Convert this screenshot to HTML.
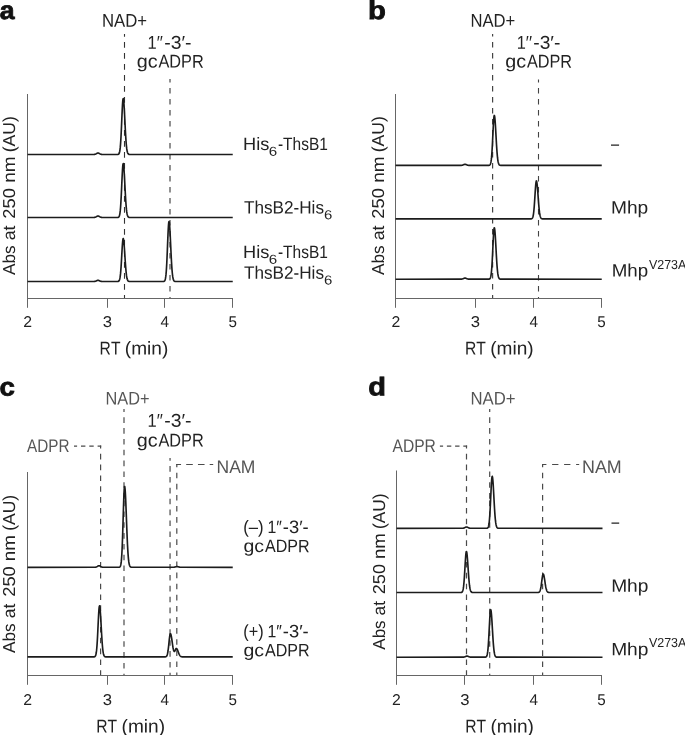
<!DOCTYPE html>
<html lang="en">
<head>
<meta charset="utf-8">
<title>Figure</title>
<style>
html,body{margin:0;padding:0;background:#fff;}
body{width:685px;height:735px;overflow:hidden;}
svg{display:block;font-family:'Liberation Sans', sans-serif;font-kerning:none;}
text{font-kerning:none;white-space:pre;text-rendering:geometricPrecision;}
</style>
</head>
<body>
<svg width="685" height="735" viewBox="0 0 685 735">
<rect width="685" height="735" fill="#fff"/>
<text transform="translate(-0.28,19.0) rotate(0.05) scale(1.0444,1)" font-size="25.5" fill="#111" font-weight="bold" stroke="#111" stroke-width="0.8">a</text>
<text transform="translate(102.03,26.7) rotate(0.05) scale(0.9044,1)" font-size="18.5" fill="#222">NAD+</text>
<text transform="translate(147.54,48.7) rotate(0.05) scale(0.8923,1)" font-size="18.5" fill="#222">1′′</text>
<text transform="translate(164.24,48.7) rotate(0.05) scale(1.0477,1)" font-size="18.5" fill="#222">-3′-</text>
<text transform="translate(136.67,67.6) rotate(0.05) scale(1.0681,1)" font-size="18.5" fill="#222">gc</text>
<text transform="translate(158.49,67.6) rotate(0.05) scale(0.8806,1)" font-size="18.5" fill="#222">ADPR</text>
<line x1="124.5" y1="33.9" x2="124.5" y2="298.5" stroke="#333" stroke-width="1.1" stroke-dasharray="5.6 5.40" stroke-dashoffset="2.80"/>
<line x1="170.0" y1="79" x2="170.0" y2="298.5" stroke="#383838" stroke-width="1.1" stroke-dasharray="5.6 5.40" stroke-dashoffset="2.00"/>
<polyline points="27.5,94 27.5,298.5 233.0,298.5" fill="none" stroke="#666" stroke-width="1"/>
<line x1="27.5" y1="298.0" x2="27.5" y2="307.8" stroke="#666" stroke-width="1"/>
<line x1="107.5" y1="298.0" x2="107.5" y2="307.8" stroke="#666" stroke-width="1"/>
<line x1="164.5" y1="298.0" x2="164.5" y2="307.8" stroke="#666" stroke-width="1"/>
<line x1="232.5" y1="298.0" x2="232.5" y2="307.8" stroke="#666" stroke-width="1"/>
<path d="M27.50,154.50 L93.25,154.49 L93.50,154.48 L93.75,154.47 L94.00,154.46 L94.25,154.43 L94.50,154.40 L94.75,154.36 L95.00,154.30 L95.25,154.22 L95.50,154.13 L95.75,154.01 L96.00,153.88 L96.25,153.74 L96.50,153.59 L96.75,153.44 L97.00,153.30 L97.25,153.18 L97.50,153.08 L97.75,153.02 L98.00,153.00 L98.25,153.02 L98.50,153.08 L98.75,153.18 L99.00,153.30 L99.25,153.44 L99.50,153.59 L99.75,153.74 L100.00,153.88 L100.25,154.01 L100.50,154.13 L100.75,154.22 L101.00,154.30 L101.25,154.36 L101.50,154.40 L101.75,154.43 L102.00,154.46 L102.25,154.47 L102.50,154.48 L102.75,154.49 L117.00,154.49 L117.25,154.49 L117.50,154.48 L117.75,154.45 L118.00,154.41 L118.25,154.33 L118.50,154.21 L118.75,154.00 L119.00,153.66 L119.25,153.13 L119.50,152.34 L119.75,151.20 L120.00,149.60 L120.25,147.43 L120.50,144.61 L120.75,141.06 L121.00,136.79 L121.25,131.83 L121.50,126.34 L121.75,120.53 L122.00,114.74 L122.25,109.32 L122.50,104.66 L122.75,101.13 L123.00,99.03 L123.25,98.53 L123.50,99.40 L123.75,101.46 L124.00,104.59 L124.25,108.57 L124.50,113.18 L124.75,118.14 L125.00,123.23 L125.25,128.20 L125.50,132.87 L125.75,137.11 L126.00,140.83 L126.25,143.99 L126.50,146.60 L126.75,148.69 L127.00,150.33 L127.25,151.57 L127.50,152.49 L127.75,153.15 L128.00,153.61 L128.25,153.93 L128.50,154.14 L128.75,154.28 L129.00,154.37 L129.25,154.42 L129.50,154.46 L129.75,154.48 L130.00,154.49 L130.25,154.49 L232.75,154.50" fill="none" stroke="#1c1c1c" stroke-width="1.65" stroke-linejoin="round"/>
<path d="M27.50,217.50 L93.25,217.49 L93.50,217.48 L93.75,217.47 L94.00,217.46 L94.25,217.43 L94.50,217.40 L94.75,217.36 L95.00,217.30 L95.25,217.22 L95.50,217.13 L95.75,217.01 L96.00,216.88 L96.25,216.74 L96.50,216.59 L96.75,216.44 L97.00,216.30 L97.25,216.18 L97.50,216.08 L97.75,216.02 L98.00,216.00 L98.25,216.02 L98.50,216.08 L98.75,216.18 L99.00,216.30 L99.25,216.44 L99.50,216.59 L99.75,216.74 L100.00,216.88 L100.25,217.01 L100.50,217.13 L100.75,217.22 L101.00,217.30 L101.25,217.36 L101.50,217.40 L101.75,217.43 L102.00,217.46 L102.25,217.47 L102.50,217.48 L102.75,217.49 L117.00,217.49 L117.25,217.49 L117.50,217.48 L117.75,217.45 L118.00,217.41 L118.25,217.34 L118.50,217.22 L118.75,217.01 L119.00,216.69 L119.25,216.18 L119.50,215.42 L119.75,214.32 L120.00,212.77 L120.25,210.68 L120.50,207.96 L120.75,204.54 L121.00,200.42 L121.25,195.64 L121.50,190.34 L121.75,184.75 L122.00,179.16 L122.25,173.93 L122.50,169.44 L122.75,166.04 L123.00,164.01 L123.25,163.52 L123.50,164.37 L123.75,166.36 L124.00,169.37 L124.25,173.21 L124.50,177.65 L124.75,182.44 L125.00,187.34 L125.25,192.14 L125.50,196.64 L125.75,200.73 L126.00,204.31 L126.25,207.36 L126.50,209.88 L126.75,211.90 L127.00,213.48 L127.25,214.67 L127.50,215.56 L127.75,216.19 L128.00,216.64 L128.25,216.95 L128.50,217.15 L128.75,217.29 L129.00,217.37 L129.25,217.43 L129.50,217.46 L129.75,217.48 L130.00,217.49 L130.25,217.49 L232.75,217.50" fill="none" stroke="#1c1c1c" stroke-width="1.65" stroke-linejoin="round"/>
<path d="M27.50,281.50 L93.25,281.49 L93.50,281.49 L93.75,281.48 L94.00,281.47 L94.25,281.45 L94.50,281.42 L94.75,281.39 L95.00,281.34 L95.25,281.28 L95.50,281.20 L95.75,281.11 L96.00,281.01 L96.25,280.89 L96.50,280.77 L96.75,280.65 L97.00,280.54 L97.25,280.44 L97.50,280.36 L97.75,280.32 L98.00,280.30 L98.25,280.32 L98.50,280.36 L98.75,280.44 L99.00,280.54 L99.25,280.65 L99.50,280.77 L99.75,280.89 L100.00,281.01 L100.25,281.11 L100.50,281.20 L100.75,281.28 L101.00,281.34 L101.25,281.39 L101.50,281.42 L101.75,281.45 L102.00,281.47 L102.25,281.48 L102.50,281.49 L102.75,281.49 L117.25,281.49 L117.50,281.48 L117.75,281.46 L118.00,281.43 L118.25,281.37 L118.50,281.28 L118.75,281.11 L119.00,280.85 L119.25,280.45 L119.50,279.84 L119.75,278.96 L120.00,277.73 L120.25,276.07 L120.50,273.90 L120.75,271.18 L121.00,267.90 L121.25,264.09 L121.50,259.87 L121.75,255.42 L122.00,250.97 L122.25,246.81 L122.50,243.23 L122.75,240.52 L123.00,238.91 L123.25,238.52 L123.50,239.19 L123.75,240.78 L124.00,243.17 L124.25,246.23 L124.50,249.77 L124.75,253.58 L125.00,257.49 L125.25,261.30 L125.50,264.89 L125.75,268.14 L126.00,271.00 L126.25,273.43 L126.50,275.43 L126.75,277.04 L127.00,278.30 L127.25,279.25 L127.50,279.95 L127.75,280.46 L128.00,280.82 L128.25,281.06 L128.50,281.22 L128.75,281.33 L129.00,281.40 L129.25,281.44 L129.50,281.47 L129.75,281.48 L130.00,281.49 L130.25,281.49 L162.75,281.49 L163.00,281.49 L163.25,281.48 L163.50,281.45 L163.75,281.41 L164.00,281.34 L164.25,281.22 L164.50,281.01 L164.75,280.68 L165.00,280.16 L165.25,279.38 L165.50,278.24 L165.75,276.63 L166.00,274.44 L166.25,271.57 L166.50,267.93 L166.75,263.50 L167.00,258.32 L167.25,252.54 L167.50,246.36 L167.75,240.12 L168.00,234.20 L168.25,229.01 L168.50,224.96 L168.75,222.39 L169.00,221.50 L169.25,222.17 L169.50,224.14 L169.75,227.27 L170.00,231.37 L170.25,236.20 L170.50,241.47 L170.75,246.91 L171.00,252.27 L171.25,257.36 L171.50,262.00 L171.75,266.10 L172.00,269.61 L172.25,272.52 L172.50,274.87 L172.75,276.71 L173.00,278.12 L173.25,279.17 L173.50,279.93 L173.75,280.46 L174.00,280.83 L174.25,281.08 L174.50,281.24 L174.75,281.34 L175.00,281.41 L175.25,281.45 L175.50,281.47 L175.75,281.48 L176.00,281.49 L232.75,281.50" fill="none" stroke="#1c1c1c" stroke-width="1.65" stroke-linejoin="round"/>
<text transform="translate(23.21,327) rotate(0.05) scale(1.0131,1)" font-size="15.6" fill="#222">2</text>
<text transform="translate(102.77,327) rotate(0.05) scale(1.0681,1)" font-size="15.6" fill="#222">3</text>
<text transform="translate(160.45,327) rotate(0.05) scale(0.9795,1)" font-size="15.6" fill="#222">4</text>
<text transform="translate(228.49,327) rotate(0.05) scale(0.9735,1)" font-size="15.6" fill="#222">5</text>
<text transform="translate(99.62,354.6) rotate(0.05) scale(0.8451,1)" font-size="18.5" fill="#222">RT</text>
<text transform="translate(124.82,354.6) rotate(0.05) scale(1.0317,1)" font-size="18.5" fill="#222">(min)</text>
<text transform="translate(15.1,275.03) rotate(-90) scale(0.9982,1)" font-size="17.3" fill="#222">Abs</text>
<text transform="translate(15.1,240.25) rotate(-90) scale(1.0246,1)" font-size="17.3" fill="#222">at</text>
<text transform="translate(15.1,218.63) rotate(-90) scale(1.0652,1)" font-size="17.3" fill="#222">250</text>
<text transform="translate(15.1,182.86) rotate(-90) scale(1.0992,1)" font-size="17.3" fill="#222">nm</text>
<text transform="translate(15.1,152.29) rotate(-90) scale(1.0177,1)" font-size="17.3" fill="#222">(AU)</text>
<text transform="translate(243.11,149.9) rotate(0.05) scale(1.0152,1)" font-size="17.9" fill="#222">His</text>
<text transform="translate(268.83,155.70000000000002) rotate(0.05) scale(1.1670,1)" font-size="13" fill="#222">6</text>
<text transform="translate(277.91,149.9) rotate(0.05) scale(0.8657,1)" font-size="17.9" fill="#222">-ThsB1</text>
<text transform="translate(243.91,213.4) rotate(0.05) scale(0.9588,1)" font-size="17.9" fill="#222">ThsB2-His</text>
<text transform="translate(323.94,219.20000000000002) rotate(0.05) scale(1.1503,1)" font-size="13" fill="#222">6</text>
<text transform="translate(243.11,257.9) rotate(0.05) scale(1.0152,1)" font-size="17.9" fill="#222">His</text>
<text transform="translate(268.83,263.7) rotate(0.05) scale(1.1670,1)" font-size="13" fill="#222">6</text>
<text transform="translate(277.91,257.9) rotate(0.05) scale(0.8657,1)" font-size="17.9" fill="#222">-ThsB1</text>
<text transform="translate(243.91,278.7) rotate(0.05) scale(0.9588,1)" font-size="17.9" fill="#222">ThsB2-His</text>
<text transform="translate(323.94,284.5) rotate(0.05) scale(1.1503,1)" font-size="13" fill="#222">6</text>
<text transform="translate(368.07,19.05) rotate(0.05) scale(1.1479,1)" font-size="25.5" fill="#111" font-weight="bold" stroke="#111" stroke-width="0.8">b</text>
<text transform="translate(470.54,26.7) rotate(0.05) scale(0.8981,1)" font-size="18.5" fill="#222">NAD+</text>
<text transform="translate(516.75,48.7) rotate(0.05) scale(0.8838,1)" font-size="18.5" fill="#222">1′′</text>
<text transform="translate(533.29,48.7) rotate(0.05) scale(1.0377,1)" font-size="18.5" fill="#222">-3′-</text>
<text transform="translate(505.17,67.6) rotate(0.05) scale(1.0649,1)" font-size="18.5" fill="#222">gc</text>
<text transform="translate(526.93,67.6) rotate(0.05) scale(0.8779,1)" font-size="18.5" fill="#222">ADPR</text>
<line x1="492.6" y1="34.0" x2="492.6" y2="298.5" stroke="#444" stroke-width="1.2" stroke-dasharray="5.6 5.40" stroke-dashoffset="3.10"/>
<line x1="538.5" y1="79.4" x2="538.5" y2="298.5" stroke="#444" stroke-width="1.1" stroke-dasharray="5.6 5.40" stroke-dashoffset="2.40"/>
<polyline points="395.5,94 395.5,298.5 602.0,298.5" fill="none" stroke="#666" stroke-width="1"/>
<line x1="395.5" y1="298.0" x2="395.5" y2="307.8" stroke="#666" stroke-width="1"/>
<line x1="475.5" y1="298.0" x2="475.5" y2="307.8" stroke="#666" stroke-width="1"/>
<line x1="533.5" y1="298.0" x2="533.5" y2="307.8" stroke="#666" stroke-width="1"/>
<line x1="601.5" y1="298.0" x2="601.5" y2="307.8" stroke="#666" stroke-width="1"/>
<path d="M395.50,165.40 L460.25,165.39 L460.50,165.39 L460.75,165.38 L461.00,165.37 L461.25,165.35 L461.50,165.33 L461.75,165.29 L462.00,165.25 L462.25,165.20 L462.50,165.13 L462.75,165.04 L463.00,164.95 L463.25,164.84 L463.50,164.73 L463.75,164.62 L464.00,164.52 L464.25,164.43 L464.50,164.36 L464.75,164.32 L465.00,164.30 L465.25,164.32 L465.50,164.36 L465.75,164.43 L466.00,164.52 L466.25,164.62 L466.50,164.73 L466.75,164.84 L467.00,164.95 L467.25,165.04 L467.50,165.13 L467.75,165.20 L468.00,165.25 L468.25,165.29 L468.50,165.33 L468.75,165.35 L469.00,165.37 L469.25,165.38 L469.50,165.39 L469.75,165.39 L488.25,165.39 L488.50,165.38 L488.75,165.37 L489.00,165.34 L489.25,165.28 L489.50,165.19 L489.75,165.04 L490.00,164.78 L490.25,164.39 L490.50,163.79 L490.75,162.90 L491.00,161.65 L491.25,159.93 L491.50,157.65 L491.75,154.75 L492.00,151.19 L492.25,147.00 L492.50,142.26 L492.75,137.16 L493.00,131.95 L493.25,126.93 L493.50,122.46 L493.75,118.87 L494.00,116.46 L494.25,115.43 L494.50,115.76 L494.75,117.19 L495.00,119.62 L495.25,122.89 L495.50,126.81 L495.75,131.14 L496.00,135.66 L496.25,140.16 L496.50,144.46 L496.75,148.41 L497.00,151.92 L497.25,154.94 L497.50,157.47 L497.75,159.52 L498.00,161.14 L498.25,162.38 L498.50,163.30 L498.75,163.98 L499.00,164.46 L499.25,164.79 L499.50,165.01 L499.75,165.16 L500.00,165.25 L500.25,165.31 L500.50,165.35 L500.75,165.37 L501.00,165.38 L501.25,165.39 L601.75,165.40" fill="none" stroke="#1c1c1c" stroke-width="1.65" stroke-linejoin="round"/>
<path d="M395.50,218.90 L530.50,218.89 L530.75,218.88 L531.00,218.86 L531.25,218.83 L531.50,218.77 L531.75,218.68 L532.00,218.52 L532.25,218.27 L532.50,217.88 L532.75,217.30 L533.00,216.47 L533.25,215.31 L533.50,213.76 L533.75,211.75 L534.00,209.24 L534.25,206.24 L534.50,202.80 L534.75,199.01 L535.00,195.06 L535.25,191.15 L535.50,187.56 L535.75,184.53 L536.00,182.32 L536.25,181.10 L536.50,180.97 L536.75,181.73 L537.00,183.28 L537.25,185.53 L537.50,188.33 L537.75,191.52 L538.00,194.92 L538.25,198.36 L538.50,201.71 L538.75,204.82 L539.00,207.63 L539.25,210.08 L539.50,212.15 L539.75,213.85 L540.00,215.20 L540.25,216.26 L540.50,217.05 L540.75,217.64 L541.00,218.05 L541.25,218.35 L541.50,218.55 L541.75,218.68 L542.00,218.76 L542.25,218.82 L542.50,218.85 L542.75,218.87 L543.00,218.88 L543.25,218.89 L601.75,218.90" fill="none" stroke="#1c1c1c" stroke-width="1.65" stroke-linejoin="round"/>
<path d="M395.50,279.20 L460.25,279.19 L460.50,279.19 L460.75,279.18 L461.00,279.17 L461.25,279.15 L461.50,279.13 L461.75,279.09 L462.00,279.05 L462.25,279.00 L462.50,278.93 L462.75,278.84 L463.00,278.75 L463.25,278.64 L463.50,278.53 L463.75,278.42 L464.00,278.32 L464.25,278.23 L464.50,278.16 L464.75,278.12 L465.00,278.10 L465.25,278.12 L465.50,278.16 L465.75,278.23 L466.00,278.32 L466.25,278.42 L466.50,278.53 L466.75,278.64 L467.00,278.75 L467.25,278.84 L467.50,278.93 L467.75,279.00 L468.00,279.05 L468.25,279.09 L468.50,279.13 L468.75,279.15 L469.00,279.17 L469.25,279.18 L469.50,279.19 L469.75,279.19 L488.25,279.19 L488.50,279.18 L488.75,279.17 L489.00,279.14 L489.25,279.08 L489.50,278.99 L489.75,278.83 L490.00,278.57 L490.25,278.16 L490.50,277.54 L490.75,276.63 L491.00,275.34 L491.25,273.56 L491.50,271.22 L491.75,268.23 L492.00,264.56 L492.25,260.24 L492.50,255.37 L492.75,250.11 L493.00,244.74 L493.25,239.58 L493.50,234.97 L493.75,231.27 L494.00,228.79 L494.25,227.73 L494.50,228.07 L494.75,229.54 L495.00,232.04 L495.25,235.41 L495.50,239.45 L495.75,243.91 L496.00,248.57 L496.25,253.21 L496.50,257.63 L496.75,261.70 L497.00,265.32 L497.25,268.43 L497.50,271.03 L497.75,273.14 L498.00,274.81 L498.25,276.09 L498.50,277.04 L498.75,277.74 L499.00,278.23 L499.25,278.57 L499.50,278.80 L499.75,278.95 L500.00,279.05 L500.25,279.11 L500.50,279.15 L500.75,279.17 L501.00,279.18 L501.25,279.19 L601.75,279.20" fill="none" stroke="#1c1c1c" stroke-width="1.65" stroke-linejoin="round"/>
<text transform="translate(391.51,327) rotate(0.05) scale(1.0131,1)" font-size="15.6" fill="#222">2</text>
<text transform="translate(470.77,327) rotate(0.05) scale(1.0681,1)" font-size="15.6" fill="#222">3</text>
<text transform="translate(529.45,327) rotate(0.05) scale(0.9795,1)" font-size="15.6" fill="#222">4</text>
<text transform="translate(597.19,327) rotate(0.05) scale(0.9735,1)" font-size="15.6" fill="#222">5</text>
<text transform="translate(465.02,354.6) rotate(0.05) scale(0.8451,1)" font-size="18.5" fill="#222">RT</text>
<text transform="translate(490.22,354.6) rotate(0.05) scale(1.0317,1)" font-size="18.5" fill="#222">(min)</text>
<text transform="translate(384.0,275.03) rotate(-90) scale(0.9982,1)" font-size="17.3" fill="#222">Abs</text>
<text transform="translate(384.0,240.25) rotate(-90) scale(1.0246,1)" font-size="17.3" fill="#222">at</text>
<text transform="translate(384.0,218.63) rotate(-90) scale(1.0652,1)" font-size="17.3" fill="#222">250</text>
<text transform="translate(384.0,182.86) rotate(-90) scale(1.0992,1)" font-size="17.3" fill="#222">nm</text>
<text transform="translate(384.0,152.29) rotate(-90) scale(1.0177,1)" font-size="17.3" fill="#222">(AU)</text>
<text transform="translate(610.90,149.85) rotate(0.05) scale(0.8144,1)" font-size="17.9" fill="#222">–</text>
<text transform="translate(610.93,213.6) rotate(0.05) scale(1.0705,1)" font-size="17.9" fill="#222">Mhp</text>
<text transform="translate(611.76,276.5) rotate(0.05) scale(1.0460,1)" font-size="17.9" fill="#222">Mhp</text>
<text transform="translate(648.95,269) rotate(0.05) scale(0.9577,1)" font-size="13" fill="#222">V273A</text>
<text transform="translate(-0.58,395.5) rotate(0.05) scale(1.0853,1)" font-size="25.5" fill="#111" font-weight="bold" stroke="#111" stroke-width="0.8">c</text>
<text transform="translate(105.46,404.6) rotate(0.05) scale(0.8930,1)" font-size="18.3" fill="#555">NAD+</text>
<text transform="translate(147.54,426.8) rotate(0.05) scale(0.8923,1)" font-size="18.5" fill="#222">1′′</text>
<text transform="translate(164.24,426.8) rotate(0.05) scale(1.0477,1)" font-size="18.5" fill="#222">-3′-</text>
<text transform="translate(136.67,446.4) rotate(0.05) scale(1.0681,1)" font-size="18.5" fill="#222">gc</text>
<text transform="translate(158.49,446.4) rotate(0.05) scale(0.8806,1)" font-size="18.5" fill="#222">ADPR</text>
<text transform="translate(27.07,452.0) rotate(0.05) scale(0.8347,1)" font-size="18.3" fill="#555">ADPR</text>
<text transform="translate(216.57,473.0) rotate(0.05) scale(0.9558,1)" font-size="18.3" fill="#555">NAM</text>
<line x1="124.0" y1="409.1" x2="124.0" y2="500" stroke="#4a4a4a" stroke-width="1.2" stroke-dasharray="5.6 5.22" stroke-dashoffset="2.62"/>
<line x1="124.0" y1="500" x2="124.0" y2="675.5" stroke="#4a4a4a" stroke-width="1.2" stroke-dasharray="5.6 5.22" stroke-dashoffset="10.22"/>
<line x1="170.05" y1="457.9" x2="170.05" y2="675.5" stroke="#4a4a4a" stroke-width="1.2" stroke-dasharray="5.6 5.28" stroke-dashoffset="2.68"/>
<line x1="100.6" y1="445.6" x2="100.6" y2="675.5" stroke="#4a4a4a" stroke-width="1.2" stroke-dasharray="5.6 5.22" stroke-dashoffset="2.62"/>
<line x1="74" y1="446.2" x2="101.2" y2="446.2" stroke="#4a4a4a" stroke-width="1.2" stroke-dasharray="4.4 3.90" stroke-dashoffset="1.30"/>
<line x1="176.8" y1="463.9" x2="176.8" y2="675.5" stroke="#4a4a4a" stroke-width="1.2" stroke-dasharray="5.6 5.50" stroke-dashoffset="2.30"/>
<line x1="176.2" y1="464.5" x2="213.2" y2="464.5" stroke="#4a4a4a" stroke-width="1.2" stroke-dasharray="6.6 5.15" stroke-dashoffset="1.75"/>
<polyline points="27.5,472 27.5,675.5 233.0,675.5" fill="none" stroke="#666" stroke-width="1"/>
<line x1="27.5" y1="675.0" x2="27.5" y2="684.8" stroke="#666" stroke-width="1"/>
<line x1="107.5" y1="675.0" x2="107.5" y2="684.8" stroke="#666" stroke-width="1"/>
<line x1="164.5" y1="675.0" x2="164.5" y2="684.8" stroke="#666" stroke-width="1"/>
<line x1="232.5" y1="675.0" x2="232.5" y2="684.8" stroke="#666" stroke-width="1"/>
<path d="M27.50,567.30 L94.00,567.29 L94.25,567.29 L94.50,567.28 L94.75,567.27 L95.00,567.25 L95.25,567.23 L95.50,567.19 L95.75,567.15 L96.00,567.08 L96.25,567.00 L96.50,566.90 L96.75,566.78 L97.00,566.64 L97.25,566.49 L97.50,566.33 L97.75,566.17 L98.00,566.02 L98.25,565.89 L98.50,565.79 L98.75,565.72 L99.00,565.70 L99.25,565.72 L99.50,565.79 L99.75,565.89 L100.00,566.02 L100.25,566.17 L100.50,566.33 L100.75,566.49 L101.00,566.64 L101.25,566.78 L101.50,566.90 L101.75,567.00 L102.00,567.08 L102.25,567.15 L102.50,567.19 L102.75,567.23 L103.00,567.25 L103.25,567.27 L103.50,567.28 L103.75,567.29 L104.00,567.29 L118.25,567.29 L118.50,567.29 L118.75,567.28 L119.00,567.25 L119.25,567.21 L119.50,567.13 L119.75,567.00 L120.00,566.77 L120.25,566.40 L120.50,565.81 L120.75,564.91 L121.00,563.58 L121.25,561.68 L121.50,559.06 L121.75,555.56 L122.00,551.07 L122.25,545.52 L122.50,538.92 L122.75,531.41 L123.00,523.24 L123.25,514.79 L123.50,506.55 L123.75,499.09 L124.00,492.95 L124.25,488.63 L124.50,486.49 L124.75,486.58 L125.00,488.25 L125.25,491.34 L125.50,495.69 L125.75,501.07 L126.00,507.19 L126.25,513.78 L126.50,520.54 L126.75,527.22 L127.00,533.59 L127.25,539.48 L127.50,544.78 L127.75,549.41 L128.00,553.36 L128.25,556.64 L128.50,559.30 L128.75,561.41 L129.00,563.05 L129.25,564.29 L129.50,565.20 L129.75,565.87 L130.00,566.34 L130.25,566.67 L130.50,566.89 L130.75,567.04 L131.00,567.14 L131.25,567.20 L131.50,567.24 L131.75,567.27 L132.00,567.28 L132.25,567.29 L132.50,567.29 L172.50,567.29 L172.75,567.29 L173.00,567.28 L173.25,567.27 L173.50,567.25 L173.75,567.23 L174.00,567.21 L174.25,567.17 L174.50,567.13 L174.75,567.07 L175.00,567.01 L175.25,566.95 L175.50,566.88 L175.75,566.81 L176.00,566.74 L176.25,566.68 L176.50,566.64 L176.75,566.61 L177.00,566.60 L177.25,566.61 L177.50,566.64 L177.75,566.68 L178.00,566.74 L178.25,566.81 L178.50,566.88 L178.75,566.95 L179.00,567.01 L179.25,567.07 L179.50,567.13 L179.75,567.17 L180.00,567.21 L180.25,567.23 L180.50,567.25 L180.75,567.27 L181.00,567.28 L181.25,567.29 L181.50,567.29 L232.75,567.30" fill="none" stroke="#1c1c1c" stroke-width="1.65" stroke-linejoin="round"/>
<path d="M27.50,656.90 L93.50,656.89 L93.75,656.88 L94.00,656.86 L94.25,656.83 L94.50,656.77 L94.75,656.66 L95.00,656.49 L95.25,656.20 L95.50,655.76 L95.75,655.10 L96.00,654.13 L96.25,652.76 L96.50,650.90 L96.75,648.46 L97.00,645.36 L97.25,641.60 L97.50,637.20 L97.75,632.28 L98.00,627.03 L98.25,621.73 L98.50,616.69 L98.75,612.29 L99.00,608.84 L99.25,606.65 L99.50,605.90 L99.75,606.47 L100.00,608.14 L100.25,610.81 L100.50,614.29 L100.75,618.39 L101.00,622.87 L101.25,627.50 L101.50,632.06 L101.75,636.38 L102.00,640.32 L102.25,643.81 L102.50,646.79 L102.75,649.27 L103.00,651.26 L103.25,652.83 L103.50,654.03 L103.75,654.92 L104.00,655.56 L104.25,656.02 L104.50,656.33 L104.75,656.54 L105.00,656.68 L105.25,656.77 L105.50,656.82 L105.75,656.85 L106.00,656.87 L106.25,656.89 L106.50,656.89 L164.50,656.89 L164.75,656.89 L165.00,656.88 L165.25,656.86 L165.50,656.82 L165.75,656.76 L166.00,656.67 L166.25,656.51 L166.50,656.28 L166.75,655.92 L167.00,655.42 L167.25,654.71 L167.50,653.76 L167.75,652.53 L168.00,651.00 L168.25,649.17 L168.50,647.07 L168.75,644.76 L169.00,642.34 L169.25,639.96 L169.50,637.76 L169.75,635.92 L170.00,634.57 L170.25,633.82 L170.50,633.73 L170.75,634.09 L171.00,634.84 L171.25,635.93 L171.50,637.31 L171.75,638.91 L172.00,640.66 L172.25,642.46 L172.50,644.26 L172.75,645.96 L173.00,647.50 L173.25,648.84 L173.50,649.93 L173.75,650.73 L174.00,651.25 L174.25,651.47 L174.50,651.42 L174.75,651.14 L175.00,650.68 L175.25,650.13 L175.50,649.55 L175.75,649.03 L176.00,648.65 L176.25,648.46 L176.50,648.49 L176.75,648.67 L177.00,648.99 L177.25,649.43 L177.50,649.97 L177.75,650.58 L178.00,651.25 L178.25,651.94 L178.50,652.63 L178.75,653.29 L179.00,653.91 L179.25,654.46 L179.50,654.95 L179.75,655.37 L180.00,655.73 L180.25,656.01 L180.50,656.24 L180.75,656.42 L181.00,656.56 L181.25,656.66 L181.50,656.74 L181.75,656.79 L182.00,656.83 L182.25,656.85 L182.50,656.87 L182.75,656.88 L183.00,656.89 L183.25,656.89 L232.75,656.90" fill="none" stroke="#1c1c1c" stroke-width="1.65" stroke-linejoin="round"/>
<text transform="translate(23.21,705) rotate(0.05) scale(1.0131,1)" font-size="15.6" fill="#222">2</text>
<text transform="translate(102.77,705) rotate(0.05) scale(1.0681,1)" font-size="15.6" fill="#222">3</text>
<text transform="translate(160.45,705) rotate(0.05) scale(0.9795,1)" font-size="15.6" fill="#222">4</text>
<text transform="translate(228.49,705) rotate(0.05) scale(0.9735,1)" font-size="15.6" fill="#222">5</text>
<text transform="translate(96.32,732.4) rotate(0.05) scale(0.8451,1)" font-size="18.5" fill="#222">RT</text>
<text transform="translate(121.52,732.4) rotate(0.05) scale(1.0317,1)" font-size="18.5" fill="#222">(min)</text>
<text transform="translate(15.1,652.93) rotate(-90) scale(0.9932,1)" font-size="17.3" fill="#222">Abs</text>
<text transform="translate(15.1,618.33) rotate(-90) scale(1.0195,1)" font-size="17.3" fill="#222">at</text>
<text transform="translate(15.1,596.81) rotate(-90) scale(1.0599,1)" font-size="17.3" fill="#222">250</text>
<text transform="translate(15.1,561.22) rotate(-90) scale(1.0937,1)" font-size="17.3" fill="#222">nm</text>
<text transform="translate(15.1,530.81) rotate(-90) scale(1.0126,1)" font-size="17.3" fill="#222">(AU)</text>
<text transform="translate(243.27,532.9) rotate(0.05) scale(0.9310,1)" font-size="17.9" fill="#222">(–)</text>
<text transform="translate(267.39,532.9) rotate(0.05) scale(0.8838,1)" font-size="17.9" fill="#222">1″</text>
<text transform="translate(282.78,532.9) rotate(0.05) scale(1.0278,1)" font-size="17.9" fill="#222">-3′-</text>
<text transform="translate(243.48,552.1) rotate(0.05) scale(1.0888,1)" font-size="17.9" fill="#222">gc</text>
<text transform="translate(265.01,552.1) rotate(0.05) scale(0.8976,1)" font-size="17.9" fill="#222">ADPR</text>
<text transform="translate(243.29,637.2) rotate(0.05) scale(0.9080,1)" font-size="17.9" fill="#222">(+)</text>
<text transform="translate(267.39,637.2) rotate(0.05) scale(0.8838,1)" font-size="17.9" fill="#222">1″</text>
<text transform="translate(282.78,637.2) rotate(0.05) scale(1.0278,1)" font-size="17.9" fill="#222">-3′-</text>
<text transform="translate(243.48,656.2) rotate(0.05) scale(1.0888,1)" font-size="17.9" fill="#222">gc</text>
<text transform="translate(265.01,656.2) rotate(0.05) scale(0.8976,1)" font-size="17.9" fill="#222">ADPR</text>
<text transform="translate(368.21,395.3) rotate(0.05) scale(1.1362,1)" font-size="25.5" fill="#111" font-weight="bold" stroke="#111" stroke-width="0.8">d</text>
<text transform="translate(470.53,404.6) rotate(0.05) scale(0.9143,1)" font-size="18.3" fill="#555">NAD+</text>
<text transform="translate(392.47,452.0) rotate(0.05) scale(0.8547,1)" font-size="18.3" fill="#555">ADPR</text>
<text transform="translate(582.03,473.0) rotate(0.05) scale(0.9771,1)" font-size="18.3" fill="#555">NAM</text>
<line x1="489.7" y1="409.1" x2="489.7" y2="500" stroke="#4a4a4a" stroke-width="1.2" stroke-dasharray="5.6 5.22" stroke-dashoffset="2.62"/>
<line x1="489.7" y1="500" x2="489.7" y2="675.5" stroke="#4a4a4a" stroke-width="1.2" stroke-dasharray="5.6 5.22" stroke-dashoffset="10.22"/>
<line x1="466.5" y1="445.6" x2="466.5" y2="675.5" stroke="#4a4a4a" stroke-width="1.2" stroke-dasharray="5.6 5.22" stroke-dashoffset="2.62"/>
<line x1="439.9" y1="446.2" x2="467.1" y2="446.2" stroke="#4a4a4a" stroke-width="1.2" stroke-dasharray="4.4 3.80" stroke-dashoffset="1.20"/>
<line x1="542.6" y1="463.9" x2="542.6" y2="675.5" stroke="#4a4a4a" stroke-width="1.2" stroke-dasharray="5.6 5.50" stroke-dashoffset="2.30"/>
<line x1="542.0" y1="464.5" x2="579.2" y2="464.5" stroke="#4a4a4a" stroke-width="1.2" stroke-dasharray="6.3 5.70" stroke-dashoffset="1.90"/>
<polyline points="396.5,470.5 396.5,675.5 602.0,675.5" fill="none" stroke="#666" stroke-width="1"/>
<line x1="396.5" y1="675.0" x2="396.5" y2="684.8" stroke="#666" stroke-width="1"/>
<line x1="464.5" y1="675.0" x2="464.5" y2="684.8" stroke="#666" stroke-width="1"/>
<line x1="533.5" y1="675.0" x2="533.5" y2="684.8" stroke="#666" stroke-width="1"/>
<line x1="601.5" y1="675.0" x2="601.5" y2="684.8" stroke="#666" stroke-width="1"/>
<path d="M396.50,528.30 L461.75,528.29 L462.00,528.29 L462.25,528.28 L462.50,528.26 L462.75,528.24 L463.00,528.21 L463.25,528.18 L463.50,528.12 L463.75,528.06 L464.00,527.98 L464.25,527.88 L464.50,527.77 L464.75,527.64 L465.00,527.51 L465.25,527.38 L465.50,527.26 L465.75,527.15 L466.00,527.07 L466.25,527.02 L466.50,527.00 L466.75,527.02 L467.00,527.07 L467.25,527.15 L467.50,527.26 L467.75,527.38 L468.00,527.51 L468.25,527.64 L468.50,527.77 L468.75,527.88 L469.00,527.98 L469.25,528.06 L469.50,528.12 L469.75,528.18 L470.00,528.21 L470.25,528.24 L470.50,528.26 L470.75,528.28 L471.00,528.29 L471.25,528.29 L486.00,528.29 L486.25,528.29 L486.50,528.28 L486.75,528.26 L487.00,528.22 L487.25,528.15 L487.50,528.03 L487.75,527.83 L488.00,527.52 L488.25,527.03 L488.50,526.30 L488.75,525.23 L489.00,523.75 L489.25,521.74 L489.50,519.11 L489.75,515.82 L490.00,511.85 L490.25,507.25 L490.50,502.15 L490.75,496.76 L491.00,491.38 L491.25,486.34 L491.50,482.02 L491.75,478.74 L492.00,476.79 L492.25,476.32 L492.50,477.13 L492.75,479.05 L493.00,481.95 L493.25,485.65 L493.50,489.93 L493.75,494.54 L494.00,499.26 L494.25,503.88 L494.50,508.21 L494.75,512.15 L495.00,515.60 L495.25,518.54 L495.50,520.96 L495.75,522.91 L496.00,524.42 L496.25,525.58 L496.50,526.43 L496.75,527.04 L497.00,527.47 L497.25,527.77 L497.50,527.97 L497.75,528.10 L498.00,528.18 L498.25,528.23 L498.50,528.26 L498.75,528.28 L499.00,528.29 L499.25,528.29 L602.50,528.30" fill="none" stroke="#1c1c1c" stroke-width="1.65" stroke-linejoin="round"/>
<path d="M396.50,592.50 L460.25,592.49 L460.50,592.49 L460.75,592.48 L461.00,592.46 L461.25,592.43 L461.50,592.36 L461.75,592.26 L462.00,592.09 L462.25,591.82 L462.50,591.40 L462.75,590.77 L463.00,589.88 L463.25,588.63 L463.50,586.95 L463.75,584.78 L464.00,582.08 L464.25,578.84 L464.50,575.12 L464.75,571.04 L465.00,566.78 L465.25,562.56 L465.50,558.68 L465.75,555.42 L466.00,553.03 L466.25,551.72 L466.50,551.57 L466.75,552.39 L467.00,554.07 L467.25,556.50 L467.50,559.52 L467.75,562.96 L468.00,566.63 L468.25,570.34 L468.50,573.95 L468.75,577.31 L469.00,580.34 L469.25,582.98 L469.50,585.22 L469.75,587.05 L470.00,588.51 L470.25,589.65 L470.50,590.50 L470.75,591.14 L471.00,591.59 L471.25,591.90 L471.50,592.12 L471.75,592.26 L472.00,592.35 L472.25,592.41 L472.50,592.45 L472.75,592.47 L473.00,592.48 L473.25,592.49 L537.50,592.49 L537.75,592.48 L538.00,592.47 L538.25,592.45 L538.50,592.40 L538.75,592.33 L539.00,592.22 L539.25,592.05 L539.50,591.79 L539.75,591.41 L540.00,590.88 L540.25,590.16 L540.50,589.23 L540.75,588.06 L541.00,586.65 L541.25,585.01 L541.50,583.20 L541.75,581.28 L542.00,579.36 L542.25,577.57 L542.50,576.03 L542.75,574.87 L543.00,574.18 L543.25,574.01 L543.50,574.30 L543.75,574.98 L544.00,576.01 L544.25,577.33 L544.50,578.85 L544.75,580.49 L545.00,582.17 L545.25,583.81 L545.50,585.35 L545.75,586.75 L546.00,587.98 L546.25,589.03 L546.50,589.89 L546.75,590.58 L547.00,591.12 L547.25,591.53 L547.50,591.83 L547.75,592.05 L548.00,592.21 L548.25,592.31 L548.50,592.38 L548.75,592.43 L549.00,592.46 L549.25,592.47 L549.50,592.49 L549.75,592.49 L602.50,592.50" fill="none" stroke="#1c1c1c" stroke-width="1.65" stroke-linejoin="round"/>
<path d="M396.50,657.20 L462.25,657.19 L462.50,657.19 L462.75,657.18 L463.00,657.17 L463.25,657.15 L463.50,657.13 L463.75,657.09 L464.00,657.05 L464.25,657.00 L464.50,656.93 L464.75,656.84 L465.00,656.75 L465.25,656.64 L465.50,656.53 L465.75,656.42 L466.00,656.32 L466.25,656.23 L466.50,656.16 L466.75,656.12 L467.00,656.10 L467.25,656.12 L467.50,656.16 L467.75,656.23 L468.00,656.32 L468.25,656.42 L468.50,656.53 L468.75,656.64 L469.00,656.75 L469.25,656.84 L469.50,656.93 L469.75,657.00 L470.00,657.05 L470.25,657.09 L470.50,657.13 L470.75,657.15 L471.00,657.17 L471.25,657.18 L471.50,657.19 L471.75,657.19 L484.50,657.19 L484.75,657.19 L485.00,657.18 L485.25,657.16 L485.50,657.12 L485.75,657.06 L486.00,656.95 L486.25,656.77 L486.50,656.48 L486.75,656.04 L487.00,655.37 L487.25,654.40 L487.50,653.04 L487.75,651.20 L488.00,648.81 L488.25,645.80 L488.50,642.17 L488.75,637.97 L489.00,633.31 L489.25,628.39 L489.50,623.47 L489.75,618.87 L490.00,614.92 L490.25,611.93 L490.50,610.15 L490.75,609.72 L491.00,610.46 L491.25,612.21 L491.50,614.86 L491.75,618.24 L492.00,622.15 L492.25,626.36 L492.50,630.67 L492.75,634.89 L493.00,638.85 L493.25,642.45 L493.50,645.60 L493.75,648.28 L494.00,650.50 L494.25,652.27 L494.50,653.66 L494.75,654.71 L495.00,655.49 L495.25,656.05 L495.50,656.45 L495.75,656.72 L496.00,656.90 L496.25,657.01 L496.50,657.09 L496.75,657.13 L497.00,657.16 L497.25,657.18 L497.50,657.19 L497.75,657.19 L602.50,657.20" fill="none" stroke="#1c1c1c" stroke-width="1.65" stroke-linejoin="round"/>
<text transform="translate(392.01,705) rotate(0.05) scale(1.0131,1)" font-size="15.6" fill="#222">2</text>
<text transform="translate(460.37,705) rotate(0.05) scale(1.0681,1)" font-size="15.6" fill="#222">3</text>
<text transform="translate(529.45,705) rotate(0.05) scale(0.9795,1)" font-size="15.6" fill="#222">4</text>
<text transform="translate(597.19,705) rotate(0.05) scale(0.9735,1)" font-size="15.6" fill="#222">5</text>
<text transform="translate(465.22,732.4) rotate(0.05) scale(0.8451,1)" font-size="18.5" fill="#222">RT</text>
<text transform="translate(490.42,732.4) rotate(0.05) scale(1.0317,1)" font-size="18.5" fill="#222">(min)</text>
<text transform="translate(385.0,649.63) rotate(-90) scale(0.9813,1)" font-size="17.3" fill="#222">Abs</text>
<text transform="translate(385.0,615.44) rotate(-90) scale(1.0072,1)" font-size="17.3" fill="#222">at</text>
<text transform="translate(385.0,594.19) rotate(-90) scale(1.0471,1)" font-size="17.3" fill="#222">250</text>
<text transform="translate(385.0,559.03) rotate(-90) scale(1.0805,1)" font-size="17.3" fill="#222">nm</text>
<text transform="translate(385.0,528.98) rotate(-90) scale(1.0004,1)" font-size="17.3" fill="#222">(AU)</text>
<text transform="translate(611.50,527.75) rotate(0.05) scale(0.7742,1)" font-size="17.9" fill="#222">–</text>
<text transform="translate(611.13,591.7) rotate(0.05) scale(1.0705,1)" font-size="17.9" fill="#222">Mhp</text>
<text transform="translate(611.13,655.3) rotate(0.05) scale(1.0705,1)" font-size="17.9" fill="#222">Mhp</text>
<text transform="translate(648.95,647) rotate(0.05) scale(0.9577,1)" font-size="13" fill="#222">V273A</text>
</svg>
</body>
</html>
